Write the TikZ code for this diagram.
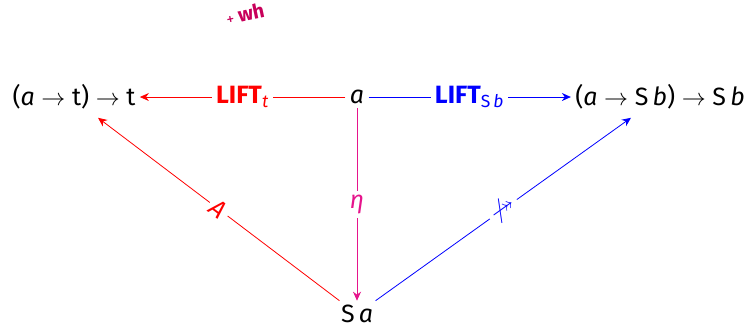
\documentclass[tikz,border=0pt]{standalone}
\usepackage{fontspec}
\setmainfont{Fira Sans}
\usepackage{amssymb}
\usepackage{xcolor}
\usetikzlibrary{arrows.meta,positioning,calc}

\definecolor{liftred}{RGB}{255,0,0}
\definecolor{liftblue}{RGB}{0,0,255}
\definecolor{etapink}{RGB}{230,20,140}
\definecolor{notepurple}{RGB}{200,0,90}

\newcommand{\fto}{~$\to$~}

\begin{document}
\begin{tikzpicture}[
  x=0.5pt, y=-0.5pt,
  font=\fontsize{12.5}{14}\selectfont,
  obj/.style={inner sep=2pt},
  arr/.style={-{Stealth[length=4.5pt,width=4pt]}, thin},
  lbl/.style={fill=white, inner sep=2pt, midway},
]
\useasboundingbox (0,0) rectangle (747,329);
\node[obj] (ta)  at (74,97)  {(\textit{a}\fto t)\fto t};
\node[obj] (a)   at (357,97) {\textit{a}};
\node[obj] (sb)  at (660,97) {(\textit{a}\fto S\,\textit{b})\fto S\,\textit{b}};
\node[obj] (sa)  at (357,314) {S\,\textit{a}};
\node[text=notepurple, rotate=12] (wh) at (245,14)
  {{\fontsize{8}{9}\selectfont +}\,{\fontsize{10}{11}\selectfont\bfseries wh}};
\draw[arr, liftred] (a) -- node[lbl]{\textbf{LIFT}\textsubscript{\textit{t}}} (ta);
\draw[arr, liftblue] (a) -- node[lbl]{\textbf{LIFT}\textsubscript{S\,\textit{b}}} (sb);
\draw[arr, etapink] (a) -- node[lbl]{\textit{η}} (sa);
\draw[arr, liftred] (sa) -- node[lbl, sloped]{\textit{A}} ($(ta.south)+(24,4)$);
\draw[arr, liftblue] (sa) -- node[lbl, sloped]{$\not\twoheadrightarrow$} ($(sb.south)+(-29,4)$);
\end{tikzpicture}
\end{document}
